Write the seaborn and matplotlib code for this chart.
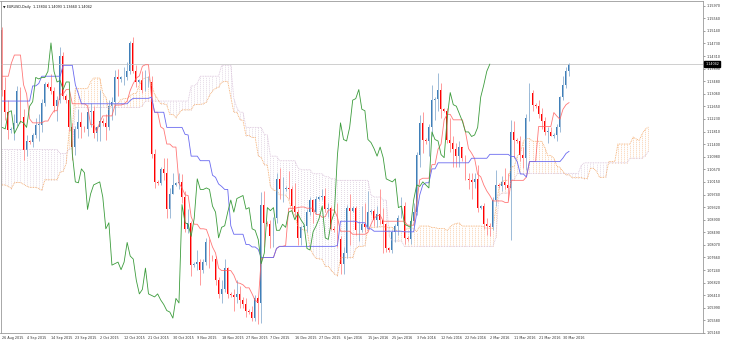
import numpy as np
import pandas as pd
import matplotlib
matplotlib.use("Agg")
import matplotlib.pyplot as plt
import seaborn as sns

sns.set_theme(style="white")
plt.rcParams['font.family'] = ['DejaVu Sans']

# ---- EURUSD daily candles (26 Aug 2015 .. 1 Apr 2016, broker with Sunday bars)
opens = [1.1518,1.1317,1.1245,1.1185,1.1190,1.1211,1.1315,1.1229,1.1119,1.1150,
         1.1148,1.1170,1.1203,1.1204,1.1275,1.1338,1.1330,1.1315,1.1265,1.1285,
         1.1432,1.1300,1.1285,1.1195,1.1130,1.1190,1.1213,1.1195,1.1190,1.1245,
         1.1250,1.1175,1.1195,1.1215,1.1210,1.1195,1.1265,1.1280,1.1360,1.1355,
         1.1360,1.1360,1.1380,1.1474,1.1380,1.1345,1.1350,1.1320,1.1345,1.1345,
         1.1108,1.1015,1.1012,1.1058,1.1045,1.0924,1.0975,1.1005,1.1010,1.1015,
         1.0965,1.0860,1.0880,1.0740,1.0745,1.0750,1.0725,1.0750,1.0815,1.0770,
         1.0760,1.0690,1.0645,1.0660,1.0730,1.0645,1.0640,1.0635,1.0645,1.0625,
         1.0610,1.0590,1.0585,1.0565,1.0630,1.0615,1.0940,1.0880,1.0875,1.0835,
         1.0895,1.1025,1.0990,1.0990,1.0995,1.0990,1.0935,1.0915,1.0830,1.0865,
         1.0870,1.0915,1.0955,1.0915,1.0960,1.0965,1.0970,1.0925,1.0930,1.0860,
         1.0855,1.0825,1.0745,1.0780,1.0930,1.0920,1.0930,1.0855,1.0855,1.0875,
         1.0865,1.0915,1.0920,1.0890,1.0910,1.0890,1.0875,1.0795,1.0790,1.0850,
         1.0870,1.0895,1.0935,1.0830,1.0825,1.0885,1.0915,1.1105,1.1210,1.1155,
         1.1150,1.1195,1.1285,1.1290,1.1320,1.1255,1.1250,1.1155,1.1145,1.1125,
         1.1100,1.1130,1.1095,1.1025,1.1020,1.1015,1.1025,1.0930,1.0935,1.0875,
         1.0870,1.0865,1.0955,1.1005,1.1000,1.1015,1.1005,1.0995,1.1180,1.1155,
         1.1150,1.1105,1.1095,1.1225,1.1310,1.1270,1.1265,1.1240,1.1215,1.1180,
         1.1180,1.1165,1.1170,1.1195,1.1295,1.1335,1.13804]
highs = [1.1525,1.1360,1.1285,1.1195,1.1240,1.1333,1.1330,1.1255,1.1170,1.1155,
         1.1175,1.1225,1.1240,1.1290,1.1345,1.1345,1.1370,1.1330,1.1300,1.1460,
         1.1445,1.1305,1.1320,1.1210,1.1200,1.1255,1.1245,1.1200,1.1260,1.1275,
         1.1265,1.1200,1.1317,1.1225,1.1240,1.1285,1.1295,1.1385,1.1387,1.1365,
         1.1395,1.1410,1.1480,1.1495,1.1400,1.1355,1.1380,1.1385,1.1365,1.1365,
         1.1125,1.1020,1.1065,1.1095,1.1095,1.0995,1.1045,1.1015,1.1045,1.1040,
         1.0985,1.0925,1.0885,1.0750,1.0790,1.0760,1.0760,1.0830,1.0825,1.0775,
         1.0770,1.0700,1.0690,1.0760,1.0735,1.0650,1.0660,1.0690,1.0670,1.0635,
         1.0630,1.0595,1.0605,1.0640,1.0635,1.0980,1.0985,1.0885,1.0890,1.0900,
         1.1045,1.1060,1.1030,1.1000,1.1050,1.1000,1.1010,1.0925,1.0870,1.0875,
         1.0925,1.0965,1.0960,1.0970,1.0970,1.0990,1.0995,1.0945,1.0935,1.0870,
         1.0945,1.0835,1.0800,1.0940,1.0975,1.0935,1.0935,1.0885,1.0935,1.0945,
         1.0985,1.0925,1.0925,1.0935,1.0990,1.0930,1.0880,1.0800,1.0855,1.0875,
         1.0905,1.0965,1.0950,1.0835,1.0895,1.0945,1.1115,1.1235,1.1245,1.1160,
         1.1205,1.1335,1.1295,1.1376,1.1340,1.1260,1.1260,1.1225,1.1165,1.1145,
         1.1150,1.1130,1.1105,1.1045,1.1045,1.1045,1.1070,1.0940,1.0945,1.0895,
         1.0880,1.0965,1.1055,1.1010,1.1035,1.1060,1.1045,1.1218,1.1215,1.1160,
         1.1165,1.1130,1.1240,1.1342,1.1320,1.1275,1.1285,1.1260,1.1230,1.1195,
         1.1195,1.1175,1.1205,1.1300,1.1365,1.1395,1.14093]
lows = [1.1300,1.1220,1.1156,1.1175,1.1155,1.1200,1.1210,1.1086,1.1100,1.1140,
        1.1130,1.1160,1.1150,1.1180,1.1265,1.1325,1.1305,1.1245,1.1215,1.1275,
        1.1290,1.1275,1.1182,1.1087,1.1105,1.1160,1.1160,1.1180,1.1165,1.1195,
        1.1160,1.1150,1.1150,1.1200,1.1155,1.1185,1.1220,1.1235,1.1300,1.1345,
        1.1335,1.1350,1.1370,1.1375,1.1330,1.1340,1.1310,1.1315,1.1330,1.1095,
        1.0995,1.1005,1.1005,1.1020,1.0895,1.0895,1.0975,1.1000,1.0990,1.0945,
        1.0850,1.0845,1.0705,1.0735,1.0725,1.0675,1.0715,1.0740,1.0730,1.0755,
        1.0675,1.0630,1.0615,1.0650,1.0630,1.0635,1.0590,1.0615,1.0600,1.0600,
        1.0570,1.0580,1.0555,1.0555,1.0545,1.0550,1.0800,1.0870,1.0795,1.0800,
        1.0880,1.0960,1.0950,1.0985,1.0960,1.0915,1.0895,1.0805,1.0805,1.0860,
        1.0850,1.0905,1.0880,1.0910,1.0955,1.0955,1.0915,1.0900,1.0855,1.0850,
        1.0800,1.0710,1.0710,1.0765,1.0805,1.0915,1.0840,1.0820,1.0850,1.0850,
        1.0860,1.0910,1.0870,1.0865,1.0875,1.0780,1.0785,1.0785,1.0780,1.0815,
        1.0840,1.0895,1.0810,1.0820,1.0810,1.0870,1.0905,1.1065,1.1110,1.1140,
        1.1100,1.1165,1.1220,1.1250,1.1225,1.1245,1.1145,1.1115,1.1065,1.1065,
        1.1065,1.1085,1.1020,1.0990,1.0960,1.0995,1.0915,1.0925,1.0860,1.0840,
        1.0835,1.0855,1.0935,1.0995,1.0985,1.0990,1.0955,1.0822,1.1095,1.1145,
        1.1085,1.1060,1.1055,1.1215,1.1250,1.1260,1.1225,1.1190,1.1170,1.1145,
        1.1165,1.1160,1.1150,1.1180,1.1285,1.1325,1.13660]
closes = [1.1317,1.1245,1.1185,1.1190,1.1211,1.1315,1.1229,1.1119,1.1150,1.1148,
          1.1170,1.1203,1.1204,1.1275,1.1338,1.1330,1.1315,1.1265,1.1285,1.1432,
          1.1300,1.1285,1.1195,1.1130,1.1190,1.1213,1.1195,1.1190,1.1245,1.1250,
          1.1175,1.1195,1.1215,1.1210,1.1195,1.1265,1.1280,1.1360,1.1355,1.1360,
          1.1360,1.1380,1.1474,1.1380,1.1345,1.1350,1.1320,1.1345,1.1345,1.1108,
          1.1015,1.1012,1.1058,1.1045,1.0924,1.0975,1.1005,1.1010,1.1015,1.0965,
          1.0860,1.0880,1.0740,1.0745,1.0750,1.0725,1.0750,1.0815,1.0770,1.0760,
          1.0690,1.0645,1.0660,1.0730,1.0645,1.0640,1.0635,1.0645,1.0625,1.0610,
          1.0590,1.0585,1.0565,1.0630,1.0615,1.0940,1.0880,1.0875,1.0835,1.0895,
          1.1025,1.0990,1.0990,1.0995,1.0990,1.0935,1.0915,1.0830,1.0865,1.0870,
          1.0915,1.0955,1.0915,1.0960,1.0965,1.0970,1.0925,1.0930,1.0860,1.0855,
          1.0825,1.0745,1.0780,1.0930,1.0920,1.0930,1.0855,1.0855,1.0875,1.0865,
          1.0915,1.0920,1.0890,1.0910,1.0890,1.0875,1.0795,1.0790,1.0850,1.0870,
          1.0895,1.0935,1.0830,1.0825,1.0885,1.0915,1.1105,1.1210,1.1155,1.1150,
          1.1195,1.1285,1.1290,1.1320,1.1255,1.1250,1.1155,1.1145,1.1125,1.1100,
          1.1130,1.1095,1.1025,1.1020,1.1015,1.1025,1.0930,1.0935,1.0875,1.0870,
          1.0865,1.0955,1.1005,1.1000,1.1015,1.1005,1.0995,1.1180,1.1155,1.1150,
          1.1105,1.1095,1.1225,1.1310,1.1270,1.1265,1.1240,1.1215,1.1180,1.1180,
          1.1165,1.1170,1.1195,1.1295,1.1335,1.13804,1.14042]

# ---- Ichimoku lines, as (level, number of bars) steps
tenkan_steps = [(1.1364,3),(1.1407,1),(1.1434,3),(1.1336,1),(1.1306,1),(1.1223,1),(1.1210,4),
    (1.1216,2),(1.1235,1),(1.1250,2),(1.1305,2),(1.1320,1),(1.1321,1),(1.1273,5),(1.1266,1),
    (1.1204,2),(1.1181,1),(1.1211,1),(1.1233,4),(1.1268,1),(1.1269,2),(1.1272,1),(1.1282,1),
    (1.1317,1),(1.1340,1),(1.1358,1),(1.1365,1),(1.1397,1),(1.1402,2),(1.1295,1),(1.1245,2),
    (1.1197,1),(1.1190,1),(1.1140,2),(1.1130,2),(1.1010,1),(1.0995,1),(1.0972,1),(1.0970,1),
    (1.0900,1),(1.0875,2),(1.0860,2),(1.0858,1),(1.0830,1),(1.0800,1),(1.0780,1),(1.0730,1),
    (1.0722,4),(1.0707,1),(1.0682,1),(1.0680,1),(1.0675,1),(1.0665,2),(1.0645,1),(1.0623,1),
    (1.0618,1),(1.0762,1),(1.0765,4),(1.0795,1),(1.0802,2),(1.0805,1),(1.0928,3),(1.0930,1),
    (1.0932,2),(1.0928,3),(1.0907,2),(1.0898,1),(1.0900,1),(1.0922,3),(1.0898,1),(1.0852,4),
    (1.0842,5),(1.0848,1),(1.0875,1),(1.0895,1),(1.0903,1),(1.0905,1),(1.0885,8),(1.0872,3),
    (1.0947,1),(1.1022,1),(1.1027,3),(1.1072,2),(1.1123,1),(1.1140,1),(1.1220,1),(1.1238,2),
    (1.1220,4),(1.1180,1),(1.1125,1),(1.1110,1),(1.1092,1),(1.1040,1),(1.1032,1),(1.1005,1),
    (1.0985,1),(1.0970,1),(1.0952,4),(1.0947,2),(1.1020,5),(1.1031,1),(1.1082,3),(1.1198,5),
    (1.1244,1),(1.1232,1),(1.1222,1),(1.1255,1),(1.1270,1),(1.1277,1)]
kijun_steps = [(1.1282,10),(1.1332,2),(1.1340,1),(1.1364,7),(1.1400,4),(1.1336,1),(1.1306,1),
    (1.1273,16),(1.1284,1),(1.1291,6),(1.1295,1),(1.1245,4),(1.1195,6),(1.1172,1),(1.1170,1),
    (1.1100,3),(1.1085,4),(1.1037,1),(1.1030,1),(1.1008,1),(1.1000,1),(1.0990,2),(1.0870,1),
    (1.0842,4),(1.0808,2),(1.0800,2),(1.0792,1),(1.0765,5),(1.0795,1),(1.0802,19),(1.0805,1),
    (1.0885,6),(1.0880,3),(1.0860,2),(1.0852,10),(1.0850,4),(1.0912,1),(1.0972,1),(1.1005,1),
    (1.1012,2),(1.1058,2),(1.1078,11),(1.1093,6),(1.1106,7),(1.1099,2),(1.1081,1),(1.1041,2),
    (1.1031,1),(1.1082,11),(1.1094,1),(1.1109,1),(1.1116,1)]
span_a_steps = [(1.1005,2),(1.1000,1),(1.0993,1),(1.1012,1),(1.1013,2),(1.1007,1),(1.1001,1),
    (1.0997,3),(1.0993,1),(1.0987,1),(1.1022,5),(1.1047,1),(1.1050,1),(1.1076,1),(1.1186,2),
    (1.1323,5),(1.1345,1),(1.1358,3),(1.1309,1),(1.1294,1),(1.1252,1),(1.1271,2),(1.1274,1),
    (1.1287,1),(1.1290,2),(1.1300,1),(1.1307,2),(1.1335,1),(1.1353,1),(1.1360,2),(1.1337,1),
    (1.1304,1),(1.1289,1),(1.1273,2),(1.1269,1),(1.1238,2),(1.1227,1),(1.1242,1),(1.1253,4),
    (1.1270,1),(1.1271,2),(1.1273,1),(1.1278,1),(1.1300,1),(1.1315,1),(1.1324,1),(1.1328,1),
    (1.1344,1),(1.1347,2),(1.1295,1),(1.1245,2),(1.1221,1),(1.1218,1),(1.1168,2),(1.1162,2),
    (1.1102,1),(1.1095,1),(1.1072,1),(1.1070,1),(1.1000,1),(1.0987,2),(1.0972,2),(1.0971,1),
    (1.0957,1),(1.0919,1),(1.0905,1),(1.0869,1),(1.0861,1),(1.0856,2),(1.0796,1),(1.0775,1),
    (1.0762,1),(1.0761,1),(1.0759,1),(1.0736,2),(1.0722,1),(1.0711,1),(1.0705,1),(1.0764,1),
    (1.0765,4),(1.0795,1),(1.0802,2),(1.0804,1),(1.0865,3),(1.0866,1),(1.0867,2),(1.0865,3),
    (1.0855,2),(1.0850,1),(1.0851,1),(1.0862,3),(1.0851,1),(1.0869,4),(1.0864,2),(1.0861,3),
    (1.0854,1),(1.0867,1),(1.0874,1),(1.0878,1),(1.0879,1),(1.0869,7),(1.0867,1),(1.0861,3),
    (1.0930,1),(1.0997,1),(1.1016,1),(1.1020,2),(1.1065,2),(1.1100,1),(1.1109,1),(1.1149,1),
    (1.1158,2),(1.1149,4),(1.1129,1),(1.1102,2),(1.1093,1),(1.1067,1),(1.1063,1),(1.1049,1),
    (1.1039,1),(1.1038,1),(1.1029,4),(1.1026,2),(1.1060,2),(1.1050,1),(1.1030,2),(1.1031,1),
    (1.1082,3),(1.1140,5),(1.1163,1),(1.1157,1),(1.1152,1),(1.1174,1),(1.1189,1),(1.1196,1)]
span_b_steps = [(1.1122,19),(1.1109,3),(1.1124,2),(1.1261,22),(1.1267,1),(1.1282,15),(1.1332,2),
    (1.1340,1),(1.1364,7),(1.1400,4),(1.1290,1),(1.1260,1),(1.1245,2),(1.1195,6),(1.1172,1),
    (1.1170,1),(1.1100,3),(1.1085,6),(1.1062,1),(1.1055,4),(1.1042,4),(1.1032,2),(1.1025,2),
    (1.1020,11),(1.0972,1),(1.0965,3),(1.0955,2),(1.0835,1),(1.0820,4),(1.0802,30),(1.0832,1),
    (1.0972,1),(1.0978,3),(1.1022,2),(1.1043,21),(1.1070,1),(1.1078,15),(1.1093,5),(1.1102,1),
    (1.1116,1)]

date_labels = ["26 Aug 2015","4 Sep 2015","14 Sep 2015","23 Sep 2015","2 Oct 2015",
               "12 Oct 2015","21 Oct 2015","30 Oct 2015","9 Nov 2015","18 Nov 2015",
               "27 Nov 2015","7 Dec 2015","16 Dec 2015","27 Dec 2015","6 Jan 2016",
               "15 Jan 2016","25 Jan 2016","3 Feb 2016","12 Feb 2016","22 Feb 2016",
               "2 Mar 2016","11 Mar 2016","21 Mar 2016","30 Mar 2016"]
price_labels = ["1.15970","1.15560","1.15140","1.14730","1.14310","1.13890","1.13480",
                "1.13060","1.12650","1.12230","1.11810","1.11400","1.10980","1.10570",
                "1.10150","1.09740","1.09320","1.08900","1.08490","1.08070","1.07660",
                "1.07240","1.06820","1.06410","1.05990","1.05580","1.05160"]
header = "\u25BC EURUSD,Daily  1.13804 1.14093 1.13660 1.14042"
last_price_label = "1.14042"

def expand(steps):
    return np.array([v for v, c in steps for _ in range(c)])

tenkan = expand(tenkan_steps)
kijun = expand(kijun_steps)
span_a = expand(span_a_steps)
span_b = expand(span_b_steps)

O = np.array(opens); H = np.array(highs); L = np.array(lows); C = np.array(closes)
n = len(C)
x = np.arange(n)
SHIFT = 26

W, Hh = 730, 342
fig = plt.figure(figsize=(W/100, Hh/100), dpi=100)
ax = fig.add_axes([0.5/W, (Hh-333)/Hh, 702.5/W, 332/Hh])
ax.set_facecolor("white")
ax.set_xlim((0 - 1.7) / 3.05, (703 - 1.7) / 3.05)
ax.set_ylim(1.1597 - (333 - 5.7) / 3030, 1.1597 + (5.7 - 1) / 3030)

# cloud (dotted hatching between span A and span B)
xs = np.arange(len(span_a))
bull = span_a >= span_b
ax.vlines(xs[bull], span_b[bull], span_a[bull], colors="#F4A460",
          linestyles=(0, (1, 1.6)), lw=0.55, alpha=0.8)
ax.vlines(xs[~bull], span_a[~bull], span_b[~bull], colors="#C8B4CC",
          linestyles=(0, (1, 1.6)), lw=0.55, alpha=0.8)
ax.plot(xs, span_a, color="#F4A460", lw=0.6, ls=(0, (1, 1)))
ax.plot(xs, span_b, color="#D8BFD8", lw=0.6, ls=(0, (1, 1)))

# last price line
ax.axhline(C[-1], color="#C8C8C8", lw=0.6)

# candles
up = C >= O
ax.vlines(x[up], L[up], H[up], colors="#9DBBD8", lw=0.7)
ax.vlines(x[~up], L[~up], H[~up], colors="#FF9A9A", lw=0.7)
bb = np.minimum(O, C)
bh = np.maximum(np.abs(C - O), 0.00025)
ax.bar(x[up], bh[up], bottom=bb[up], width=0.62, color="#3F7FB8", linewidth=0)
ax.bar(x[~up], bh[~up], bottom=bb[~up], width=0.62, color="#FF0000", linewidth=0)

# Tenkan, Kijun, Chikou
df_l = pd.DataFrame({"x": x, "tenkan": tenkan, "kijun": kijun})
sns.lineplot(data=df_l, x="x", y="tenkan", ax=ax, color="#FF6060", lw=0.6, alpha=0.85)
sns.lineplot(data=df_l, x="x", y="kijun", ax=ax, color="#6A6AF0", lw=0.6)
df_c = pd.DataFrame({"x": x[SHIFT:] - SHIFT, "chikou": C[SHIFT:]})
sns.lineplot(data=df_c, x="x", y="chikou", ax=ax, color="#3C9C3C", lw=0.6)

ax.set_xlabel(""); ax.set_ylabel("")
for s in ax.spines.values():
    s.set_color("#9A9A9A"); s.set_linewidth(0.6)
ax.set_xticks(np.arange(0, 8 * len(date_labels), 8))
ax.set_xticklabels(date_labels, fontsize=2.4, ha="left", color="#333333")
ax.tick_params(axis="x", length=1.5, width=0.4, pad=0.5, color="#555555")
yt = [1.1597 - (k * 12.6) / 3030 for k in range(len(price_labels))]
ax.yaxis.tick_right()
ax.set_yticks(yt)
ax.set_yticklabels(price_labels, fontsize=2.4, color="#333333")
ax.tick_params(axis="y", length=1.5, width=0.4, pad=1.0, color="#555555")
ax.text(1.003, C[-1], last_price_label, transform=ax.get_yaxis_transform(),
        fontsize=2.4, color="white", va="center", ha="left",
        bbox=dict(boxstyle="square,pad=0.25", fc="black", ec="black"))
fig.text(3/W, 1 - 7/Hh, header, fontsize=2.4, color="#111111", va="center", ha="left")

fig.savefig("out.png", dpi=100)
